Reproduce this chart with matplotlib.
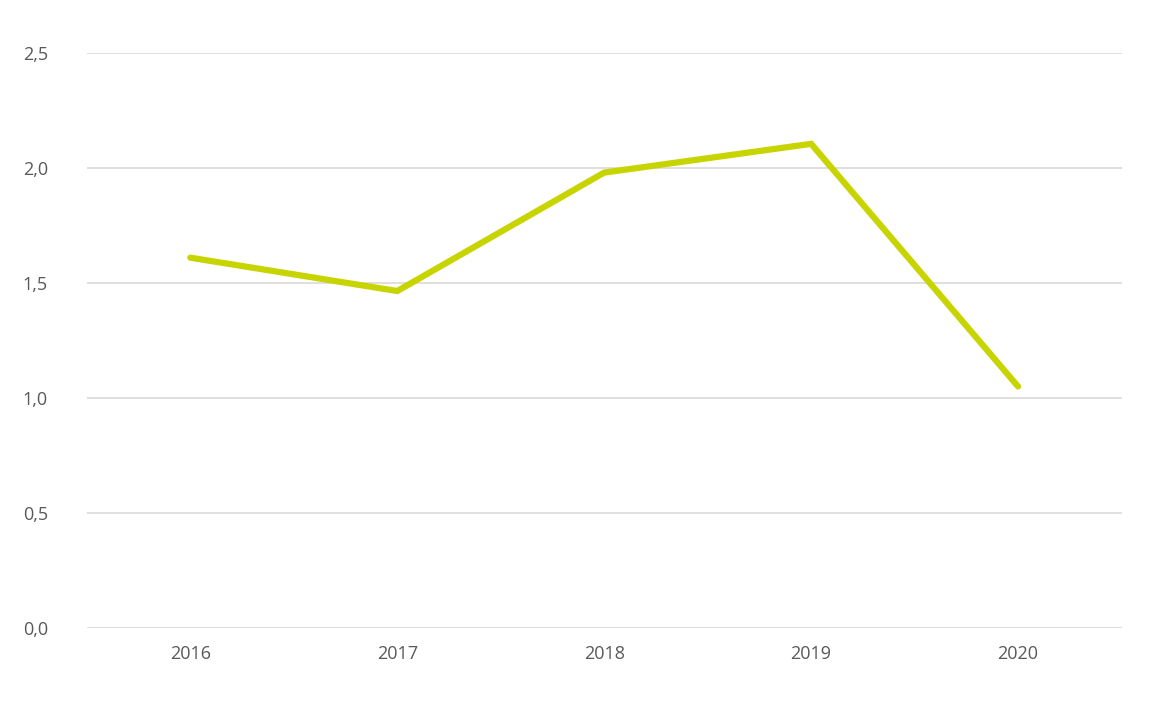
import matplotlib
matplotlib.use("Agg")
import matplotlib.pyplot as plt

years = ["2016", "2017", "2018", "2019", "2020"]
values = [1.61, 1.465, 1.98, 2.105, 1.05]
yticks = [0.0, 0.5, 1.0, 1.5, 2.0, 2.5]

plt.rcParams['font.family'] = ['Open Sans', 'DejaVu Sans']
fig = plt.figure(figsize=(11.58, 7.15), dpi=100)
ax = fig.add_axes([0.075, 0.1217, 0.8935, 0.8042])
x = list(range(len(years)))
ax.plot(x, values, color="#C8D400", lw=4.5, solid_capstyle="round", solid_joinstyle="miter", zorder=3)
ax.set_xlim(-0.5, len(years) - 0.5)
ax.set_ylim(0, 2.5)
ax.set_yticks(yticks)
ax.set_yticklabels([f"{v:.1f}".replace(".", ",") for v in yticks])
ax.set_xticks(x)
ax.set_xticklabels(years)
ax.grid(axis="y", color="#D9D9D9", lw=1.2)
for s in ax.spines.values():
    s.set_visible(False)
ax.tick_params(length=0, labelsize=13, colors="#595959", pad=12)
ax.tick_params(axis="y", pad=28)
fig.savefig("out.png", dpi=100)
